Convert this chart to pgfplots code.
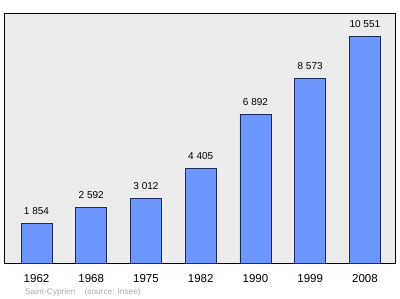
\documentclass[border=0pt]{standalone}
\usepackage{fontspec}
\setmainfont{Liberation Sans}
\usepackage{pgfplots}
\pgfplotsset{compat=1.18}
\definecolor{barblue}{HTML}{6D97FF}
\definecolor{barline}{HTML}{1A2A5A}
\definecolor{boxbg}{HTML}{ECECEC}
\definecolor{srcgray}{HTML}{AAAAAA}
\begin{document}
\begin{tikzpicture}[x=1pt,y=1pt]
\useasboundingbox (0,0) rectangle (400,299);
\begin{axis}[
  at={(4pt,36pt)}, anchor=south west,
  scale only axis, width=391pt, height=250pt,
  xmin=-0.594, xmax=6.55, ymin=0, ymax=11625,
  axis background/.style={fill=boxbg},
  axis line style={black, line width=0.9pt},
  ytick=\empty,
  xtick=data,
  xticklabels={1962,1968,1975,1982,1990,1999,2008},
  major tick length=0pt,
  xticklabel style={font=\fontsize{11.5}{13}\selectfont, yshift=-8pt},
  /pgf/number format/assume math mode=true,
  nodes near coords,
  nodes near coords style={font=\fontsize{10}{12}\selectfont, /pgf/number format/1000 sep={\ }, /pgf/number format/fixed, yshift=5pt},
  clip=false,
]
\addplot[ybar, bar width=31pt, fill=barblue, draw=barline, line width=0.7pt] coordinates {
  (0,1854) (1,2592) (2,3012) (3,4405) (4,6892) (5,8573) (6,10551)
};
\end{axis}
\node[anchor=west, inner sep=0pt, text=srcgray, font=\fontsize{8.3}{9}\selectfont] at (25,7) {Saint-Cyprien\hspace{1.1em}(source: Insee)};
\end{tikzpicture}
\end{document}
